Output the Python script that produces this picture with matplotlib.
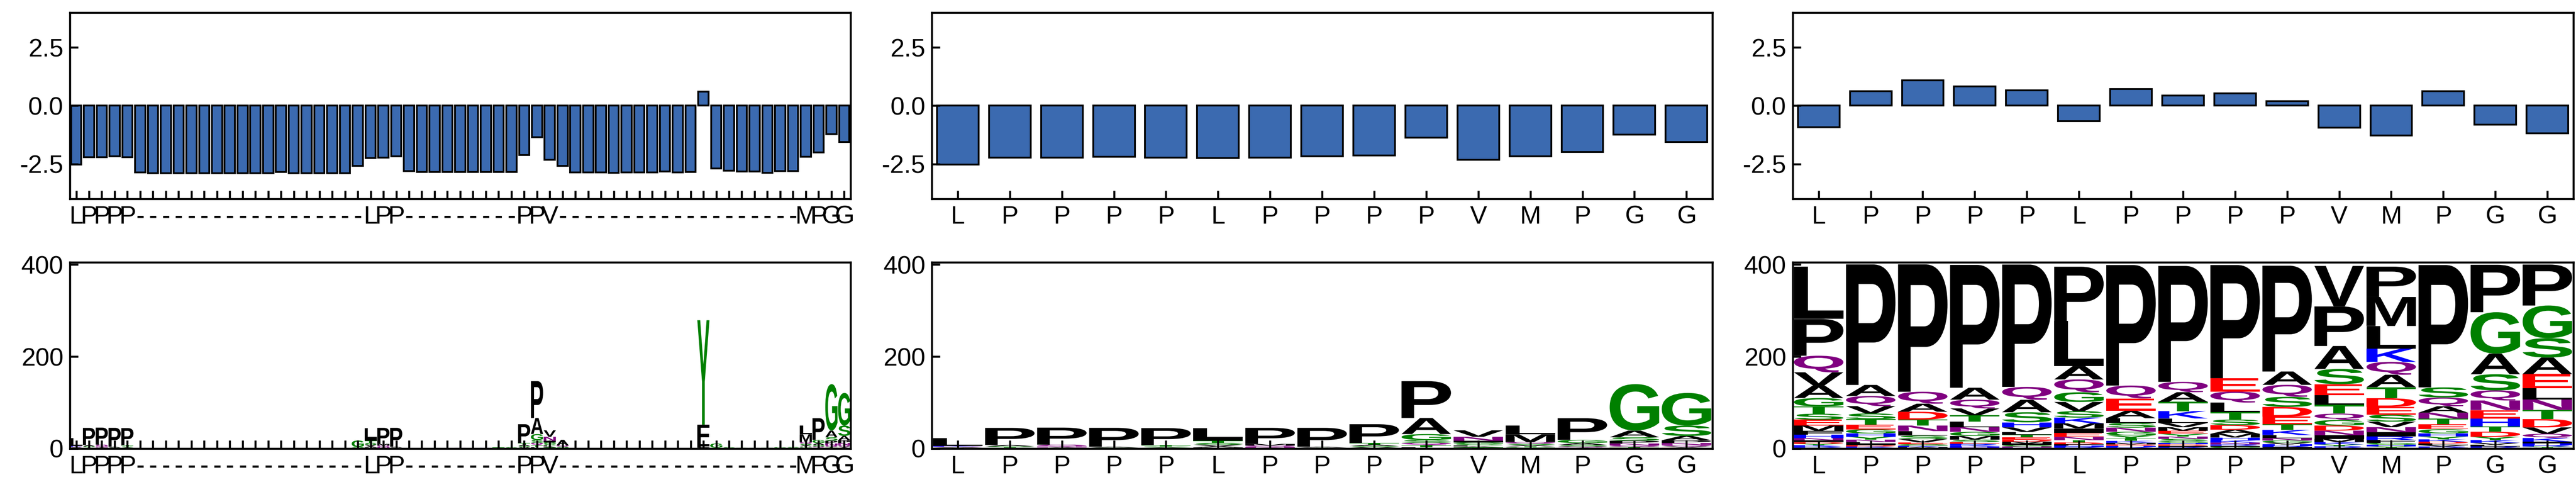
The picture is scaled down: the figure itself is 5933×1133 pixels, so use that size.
import matplotlib
matplotlib.use("Agg")
import matplotlib.pyplot as plt
from matplotlib.textpath import TextPath
from matplotlib.patches import PathPatch
from matplotlib.font_manager import FontProperties
from matplotlib import transforms

plt.rcParams['font.family'] = ['Liberation Sans', 'DejaVu Sans']
plt.rcParams['axes.unicode_minus'] = False

# alignment columns (61) and query residues (15)
aln_seq = list("LPPPP" + "-" * 18 + "LPP" + "-" * 9 + "PPV" + "-" * 19 + "MPGG")
query_seq = list("LPPPPLPPPPVMPGG")
query_idx = [0, 1, 2, 3, 4, 23, 24, 25, 35, 36, 37, 57, 58, 59, 60]

# top row: per-column scores
aln_scores = [-2.52, -2.21, -2.21, -2.18, -2.21, -2.87, -2.90, -2.90, -2.90, -2.90,
              -2.90, -2.90, -2.90, -2.90, -2.90, -2.90, -2.84, -2.90, -2.90, -2.90,
              -2.90, -2.90, -2.58, -2.24, -2.22, -2.17, -2.81, -2.84, -2.84, -2.84,
              -2.84, -2.84, -2.84, -2.84, -2.84, -2.11, -1.35, -2.32, -2.58, -2.86,
              -2.86, -2.86, -2.89, -2.86, -2.86, -2.86, -2.82, -2.86, -2.85, 0.60,
              -2.69, -2.79, -2.82, -2.82, -2.89, -2.81, -2.81, -2.19, -2.00, -1.23,
              -1.56]
query_scores = [-2.53, -2.22, -2.22, -2.20, -2.22, -2.24, -2.22, -2.18, -2.13, -1.37,
                -2.33, -2.18, -1.99, -1.24, -1.56]
query_scores_2 = [-0.92, 0.63, 1.10, 0.83, 0.67, -0.67, 0.72, 0.43, 0.54, 0.19,
                  -0.94, -1.27, 0.63, -0.82, -1.18]

# bottom row: residue counts per column
query_logo = [
    {'L': 17, 'K': 1.5, 'Q': 1.4, 'A': 1.1, 'T': 1.0, 'S': 0.9},
    {'P': 37, 'A': 3, 'S': 2, 'T': 1.5, 'Q': 1.4},
    {'P': 37, 'Q': 4, 'N': 2, 'A': 1.5, 'S': 1},
    {'P': 41, 'A': 2, 'S': 1.5, 'Q': 0.5},
    {'P': 37, 'T': 3, 'S': 2, 'A': 1.5, 'G': 1},
    {'L': 22, 'I': 5, 'T': 4.5, 'S': 4, 'V': 3.5, 'A': 2.5, 'M': 1.5, 'Y': 1},
    {'P': 35, 'M': 3.5, 'Q': 3, 'N': 2, 'A': 1.5},
    {'P': 41, 'A': 2, 'T': 1.5, 'S': 0.5},
    {'P': 41, 'T': 3.5, 'A': 3, 'S': 2.5, 'V': 2, 'L': 1},
    {'P': 80, 'A': 35, 'G': 13, 'S': 6, 'Q': 5, 'T': 4.5, 'L': 3},
    {'V': 14, 'N': 8.7, 'I': 3.5, 'G': 3.4, 'S': 3, 'L': 2.5, 'A': 2, 'T': 1.5, 'Q': 1},
    {'L': 19, 'M': 17, 'Q': 3.5, 'S': 3, 'A': 2.5, 'T': 2, 'G': 1.5, 'N': 1.4},
    {'P': 47, 'G': 7, 'A': 4, 'S': 3.5, 'Q': 2.5, 'T': 2},
    {'G': 101, 'A': 14.5, 'S': 7.6, 'P': 6, 'N': 4, 'Q': 3.5, 'T': 2, 'D': 1.5},
    {'G': 71, 'S': 22.5, 'A': 9.4, 'P': 6, 'N': 4, 'Q': 3.5, 'V': 2.5, 'E': 2},
]
gap_logo = {
    22: {'G': 14, 'S': 2, 'T': 1.5},
    30: {'Q': 1.5},
    32: {'K': 1.5},
    33: {'T': 1.5, 'S': 1},
    34: {'S': 2, 'T': 1},
    38: {'A': 12, 'Q': 3, 'S': 2.5, 'T': 1.5},
    49: {'Y': 227, 'F': 43, 'I': 4, 'L': 3, 'V': 2},
    50: {'G': 9, 'S': 2},
    51: {'S': 2, 'T': 1},
    52: {'G': 2},
    53: {'S': 1.5},
    54: {'T': 1.5},
    55: {'G': 2, 'S': 1},
    56: {'S': 2.5, 'Q': 1},
}
full_logo = [
    {'L': 114, 'P': 80, 'Q': 36, 'V': 29, 'A': 27, 'G': 18, 'T': 16, 'S': 13, 'E': 12.5,
     'M': 12, 'F': 8, 'H': 7.5, 'N': 5, 'I': 4, 'D': 3.5, 'Y': 3, 'K': 2.8, 'R': 2.5, 'C': 2},
    {'P': 262, 'A': 24, 'Q': 22, 'V': 16, 'S': 12.5, 'T': 12, 'E': 10, 'G': 9, 'H': 7,
     'Y': 6.5, 'N': 5, 'L': 4, 'I': 3, 'D': 2.8, 'K': 2.5, 'R': 2},
    {'P': 277, 'Q': 26, 'A': 17.5, 'D': 17, 'T': 13, 'N': 12, 'L': 10, 'S': 7.5, 'V': 7,
     'E': 4, 'G': 3.5, 'K': 2.5, 'M': 2, 'R': 1.5},
    {'P': 267, 'A': 26, 'Q': 19, 'V': 15, 'T': 14, 'L': 12, 'N': 10, 'G': 9, 'M': 8,
     'S': 5, 'E': 4, 'R': 3, 'K': 2.8, 'H': 2.5, 'D': 2},
    {'P': 266, 'Q': 28, 'A': 27, 'S': 22, 'H': 11, 'V': 10, 'L': 6, 'T': 5.5, 'E': 5,
     'D': 4.5, 'M': 4, 'I': 3.5, 'G': 3, 'N': 2.5, 'K': 2},
    {'P': 118, 'L': 98, 'A': 29, 'Q': 28, 'G': 21, 'V': 20, 'S': 14, 'K': 12.5, 'M': 11,
     'I': 9.5, 'E': 9, 'N': 7, 'T': 5, 'D': 4, 'F': 3, 'H': 2.5, 'R': 2, 'Y': 1.8},
    {'P': 262, 'Q': 28, 'E': 27, 'A': 16, 'L': 10.5, 'S': 10, 'N': 9, 'G': 8, 'Y': 7,
     'T': 5, 'K': 4, 'M': 3.5, 'D': 3, 'H': 2.5, 'R': 2, 'V': 1.5},
    {'P': 252, 'Q': 22.5, 'A': 21, 'T': 20, 'K': 16, 'L': 10, 'V': 9, 'M': 8, 'E': 6.5,
     'Y': 6, 'N': 5, 'S': 4.5, 'G': 4, 'H': 3.5, 'D': 3, 'I': 2.5, 'R': 2, 'F': 1.5},
    {'P': 246, 'E': 29, 'Q': 24, 'L': 21, 'T': 16, 'S': 12, 'D': 10, 'A': 9, 'M': 8,
     'H': 6, 'K': 5, 'N': 4, 'R': 3, 'I': 2.5, 'G': 2, 'V': 1.5},
    {'P': 230, 'A': 29, 'Q': 26, 'S': 22, 'D': 21, 'E': 17, 'T': 12, 'K': 11, 'L': 7,
     'N': 5, 'G': 4.5, 'V': 4, 'H': 3, 'R': 2.5, 'I': 2, 'Y': 1.5},
    {'V': 88, 'P': 86, 'A': 50, 'S': 33, 'E': 24, 'L': 21, 'T': 19, 'Q': 14, 'G': 12,
     'D': 11, 'N': 10, 'I': 8, 'M': 7, 'K': 5, 'Y': 4, 'R': 3, 'H': 2},
    {'P': 66, 'M': 63, 'L': 49, 'K': 29, 'Q': 28, 'A': 27, 'T': 24, 'D': 19, 'E': 17,
     'S': 15, 'V': 12, 'N': 11, 'I': 9, 'R': 8, 'F': 6, 'G': 4, 'H': 3.5, 'Y': 3, 'C': 2},
    {'P': 266, 'S': 22, 'Q': 19, 'A': 14, 'N': 13, 'T': 12, 'E': 11, 'G': 9, 'H': 7,
     'Y': 6, 'K': 5, 'D': 4, 'L': 3.5, 'V': 3, 'R': 2.5, 'M': 2},
    {'P': 103, 'G': 90, 'A': 45, 'S': 35, 'Q': 22, 'N': 21, 'E': 18, 'H': 17, 'T': 12,
     'D': 11, 'Y': 7, 'K': 6, 'V': 4, 'L': 3.5, 'R': 3, 'I': 2},
    {'P': 89, 'G': 71, 'S': 42, 'A': 36, 'E': 31, 'L': 24, 'N': 23, 'T': 20, 'D': 18,
     'V': 14, 'Q': 9, 'K': 8, 'I': 4, 'H': 3.5, 'R': 3, 'Y': 2.5, 'M': 2},
]

# chemistry colour scheme
chem = {}
for aa in 'GSTYC':
    chem[aa] = (0, 0.5, 0)
for aa in 'QN':
    chem[aa] = (0.5, 0, 0.5)
for aa in 'KRH':
    chem[aa] = (0, 0, 1)
for aa in 'DE':
    chem[aa] = (1, 0, 0)
for aa in 'AVLIPWFM':
    chem[aa] = (0, 0, 0)

glyph_font = FontProperties(family='Liberation Sans', weight='bold')
bar_color = '#3b6ab0'


def draw_glyph(ax, ch, x, y0, h, width=0.95):
    tp = TextPath((0, 0), ch, size=1, prop=glyph_font)
    bb = tp.get_extents()
    t = (transforms.Affine2D().translate(-bb.x0, -bb.y0)
         .scale(width / bb.width, h / bb.height)
         .translate(x - width / 2, y0))
    ax.add_patch(PathPatch(t.transform_path(tp), facecolor=chem[ch], edgecolor='none', lw=0))


def draw_logo(ax, columns):
    for x, col in enumerate(columns):
        y = 0
        # smallest at the bottom, largest on top
        for ch, v in sorted(col.items(), key=lambda kv: kv[1]):
            draw_glyph(ax, ch, x, y, v)
            y += v


def style(ax, labels):
    n = len(labels)
    ax.set_xlim(-0.5, n - 0.5)
    ax.set_xticks(range(n))
    ax.set_xticklabels(labels)
    ax.tick_params(direction='in', length=4.5, width=1.1, labelsize=14)
    for s in ax.spines.values():
        s.set_linewidth(1.1)


fig = plt.figure(figsize=(5933 / 300, 1133 / 300), dpi=300)
lefts = [0.0271, 0.3617, 0.6959]
w = 0.3031
h = 0.3786
top_b = 0.5958
bot_b = 0.0883

# top row bars
for left, vals, labels in [(lefts[0], aln_scores, aln_seq),
                           (lefts[1], query_scores, query_seq),
                           (lefts[2], query_scores_2, query_seq)]:
    ax = fig.add_axes([left, top_b, w, h])
    ax.bar(range(len(vals)), vals, width=0.8, color=bar_color,
           edgecolor='black', linewidth=1.0)
    ax.set_ylim(-4, 4)
    ax.set_yticks([-2.5, 0, 2.5])
    style(ax, labels)

# bottom row logos
left_logo = [gap_logo.get(i, {}) for i in range(len(aln_seq))]
for k, i in enumerate(query_idx):
    left_logo[i] = query_logo[k]

for left, cols, labels in [(lefts[0], left_logo, aln_seq),
                           (lefts[1], query_logo, query_seq),
                           (lefts[2], full_logo, query_seq)]:
    ax = fig.add_axes([left, bot_b, w, h])
    draw_logo(ax, cols)
    ax.set_ylim(0, 405)
    ax.set_yticks([0, 200, 400])
    style(ax, labels)

fig.savefig('out.png', dpi=300)
